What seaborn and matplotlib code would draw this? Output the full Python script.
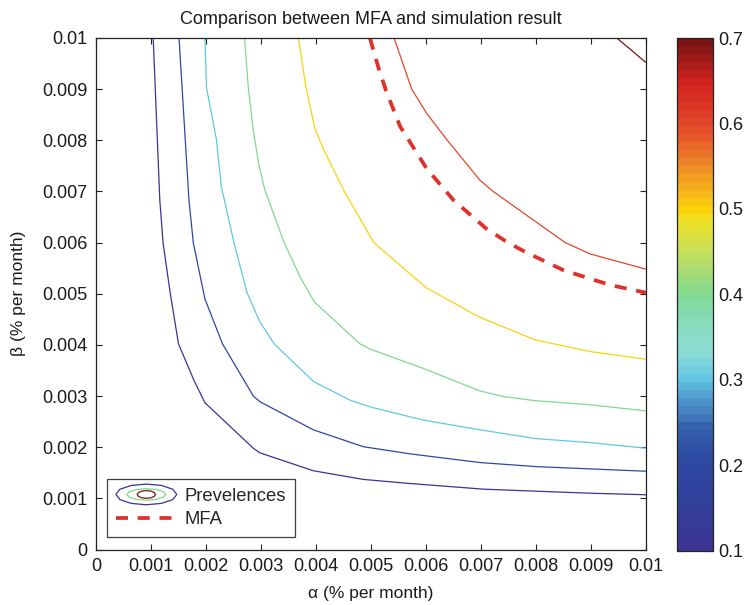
import numpy as np
import pandas as pd
import matplotlib
matplotlib.use("Agg")
import matplotlib.pyplot as plt
import seaborn as sns
from matplotlib.colors import LinearSegmentedColormap, Normalize
from matplotlib.cm import ScalarMappable
from matplotlib.legend_handler import HandlerBase
from matplotlib.lines import Line2D
from matplotlib.patches import Polygon

# ---- contour paths of prevalence (alpha, beta) per level ----
levels = [0.1, 0.2, 0.3, 0.4, 0.5, 0.6, 0.7]

alpha_p10 = [0.00104, 0.00116, 0.00122, 0.00135, 0.00150, 0.00178, 0.00198, 0.00286,
             0.00298, 0.00395, 0.00486, 0.00571, 0.00704, 0.00800, 0.00900, 0.01000]
beta_p10 = [0.01000, 0.00683, 0.00599, 0.00501, 0.00402, 0.00331, 0.00287, 0.00198,
            0.00189, 0.00154, 0.00137, 0.00129, 0.00118, 0.00114, 0.00110, 0.00107]

alpha_p20 = [0.00151, 0.00169, 0.00177, 0.00198, 0.00230, 0.00286, 0.00298, 0.00395,
             0.00486, 0.00571, 0.00698, 0.00801, 0.01000]
beta_p20 = [0.01000, 0.00683, 0.00599, 0.00490, 0.00402, 0.00300, 0.00289, 0.00234,
            0.00201, 0.00187, 0.00170, 0.00162, 0.00153]

alpha_p30 = [0.00198, 0.00201, 0.00219, 0.00228, 0.00251, 0.00275, 0.00298, 0.00324,
             0.00396, 0.00462, 0.00501, 0.00595, 0.00698, 0.00798, 0.00898, 0.01000]
beta_p30 = [0.01000, 0.00902, 0.00801, 0.00709, 0.00599, 0.00501, 0.00445, 0.00402,
            0.00328, 0.00292, 0.00278, 0.00253, 0.00234, 0.00217, 0.00209, 0.00198]

alpha_p40 = [0.00270, 0.00277, 0.00286, 0.00296, 0.00307, 0.00342, 0.00371, 0.00389,
             0.00397, 0.00480, 0.00498, 0.00595, 0.00698, 0.00741, 0.00798, 0.00898, 0.01000]
beta_p40 = [0.01000, 0.00902, 0.00820, 0.00752, 0.00703, 0.00600, 0.00533, 0.00499,
            0.00484, 0.00402, 0.00392, 0.00354, 0.00310, 0.00299, 0.00291, 0.00283, 0.00271]

alpha_p50 = [0.00368, 0.00382, 0.00398, 0.00413, 0.00450, 0.00505, 0.00600, 0.00698,
             0.00798, 0.00898, 0.01000]
beta_p50 = [0.01000, 0.00902, 0.00823, 0.00784, 0.00703, 0.00600, 0.00512, 0.00454,
            0.00410, 0.00387, 0.00372]

alpha_p60 = [0.00542, 0.00574, 0.00601, 0.00638, 0.00698, 0.00722, 0.00819, 0.00853,
             0.00898, 0.01000]
beta_p60 = [0.01000, 0.00900, 0.00853, 0.00801, 0.00722, 0.00700, 0.00626, 0.00600,
            0.00578, 0.00548]

alpha_p70 = [0.00947, 0.01000]
beta_p70 = [0.01000, 0.00952]

# ---- mean-field approximation curve ----
alpha_mfa = [0.00498, 0.00513, 0.00527, 0.00553, 0.00601, 0.00650, 0.00710, 0.00746,
             0.00780, 0.00850, 0.00935, 0.01000]
beta_mfa = [0.01000, 0.00944, 0.00898, 0.00827, 0.00745, 0.00683, 0.00627, 0.00602,
            0.00582, 0.00546, 0.00517, 0.00502]

tick_vals = [0, 0.001, 0.002, 0.003, 0.004, 0.005, 0.006, 0.007, 0.008, 0.009, 0.01]
cbar_ticks = [0.1, 0.2, 0.3, 0.4, 0.5, 0.6, 0.7]

paths = [(alpha_p10, beta_p10), (alpha_p20, beta_p20), (alpha_p30, beta_p30),
         (alpha_p40, beta_p40), (alpha_p50, beta_p50), (alpha_p60, beta_p60),
         (alpha_p70, beta_p70)]

frames = []
for lev, (a, b) in zip(levels, paths):
    frames.append(pd.DataFrame({"alpha": a, "beta": b, "level": lev,
                                "order": np.arange(len(a))}))
contours = pd.concat(frames, ignore_index=True)
mfa = pd.DataFrame({"alpha": alpha_mfa, "beta": beta_mfa})

# ---- jet-like colour map (muted, as printed) ----
vmin, vmax = 0.1, 0.7
anchors = [
    (0.10, "#3b3493"), (0.15, "#32409c"), (0.20, "#2d48a2"), (0.24, "#3660ad"),
    (0.27, "#4a90c8"), (0.30, "#62c6e4"), (0.33, "#8edcd6"), (0.37, "#86dcb8"),
    (0.40, "#80d890"), (0.45, "#c6e05e"), (0.49, "#f2e020"), (0.50, "#fbd20a"),
    (0.53, "#f6a820"), (0.56, "#ee8028"), (0.60, "#e2482a"), (0.65, "#d42420"),
    (0.70, "#7a1414"),
]
cmap_full = LinearSegmentedColormap.from_list(
    "prev", [((v - vmin) / (vmax - vmin), c) for v, c in anchors])
cmap = LinearSegmentedColormap.from_list("prev64", cmap_full(np.linspace(0, 1, 64)), N=64)
norm = Normalize(vmin, vmax)

sns.set_theme(style="white")
plt.rcParams["font.family"] = ["Liberation Sans", "DejaVu Sans"]
plt.rcParams["mathtext.fontset"] = "dejavusans"

FS = 13

fig = plt.figure(figsize=(7.48, 6.05), dpi=100)
ax = fig.add_axes([96 / 748, 55.5 / 605, 550 / 748, 511.5 / 605])
cax = fig.add_axes([677 / 748, 54.5 / 605, 36 / 748, 512.5 / 605])

palette = {lev: cmap_full(norm(lev)) for lev in levels}
sns.lineplot(data=contours, x="alpha", y="beta", hue="level", palette=palette,
             units="level", estimator=None, sort=False, lw=0.9, legend=False, ax=ax)
sns.lineplot(data=mfa, x="alpha", y="beta", sort=False, estimator=None, color="#e0302a",
             lw=2.7, dashes=False, legend=False, ax=ax)
ax.lines[-1].set_dashes((3.2, 2.6))

ax.set_xlim(0, 0.01)
ax.set_ylim(0, 0.01)
ax.set_xticks(tick_vals)
ax.set_yticks(tick_vals)
ax.set_xticklabels([f"{v:g}" for v in tick_vals])
ax.set_yticklabels([f"{v:g}" for v in tick_vals])
ax.tick_params(direction="in", length=4, width=0.8, colors="#222222", labelcolor="#1a1a1a",
               labelsize=FS, top=True, right=True, bottom=True, left=True, pad=6)
for s in ax.spines.values():
    s.set_visible(True)
    s.set_color("#222222")
    s.set_linewidth(0.9)
ax.set_xlabel("α (% per month)", fontsize=12.5, labelpad=8, color="#1a1a1a")
ax.set_ylabel("β (% per month)", fontsize=12.5, labelpad=12, color="#1a1a1a")
ax.set_title("Comparison between MFA and simulation result", fontsize=13, pad=10,
             color="#1a1a1a")


class ContourKey:
    pass


class ContourKeyHandler(HandlerBase):
    def create_artists(self, legend, orig_handle, xdescent, ydescent, width, height,
                       fontsize, trans):
        cx = width / 2 - xdescent
        cy = height / 2 - ydescent
        rings = [(0.50, 0.56, cmap_full(norm(0.1))),
                 (0.32, 0.31, cmap_full(norm(0.4))),
                 (0.15, 0.21, cmap_full(norm(0.7)))]
        t = np.linspace(0, 2 * np.pi, 13)
        arts = []
        for fw, fh, col in rings:
            xy = np.column_stack([cx + fw * width * np.cos(t),
                                  cy + fh * fontsize * np.sin(t)])
            arts.append(Polygon(xy, closed=True, fill=False, edgecolor=col, lw=0.9,
                                transform=trans))
        return arts


mfa_key = Line2D([], [], color="#e0302a", lw=2.7, dashes=(3.2, 2.6))
leg = ax.legend([ContourKey(), mfa_key], ["Prevelences", "MFA"],
                handler_map={ContourKey: ContourKeyHandler()},
                loc="lower left", bbox_to_anchor=(0.02, 0.024), borderaxespad=0,
                fontsize=13.3, handlelength=3.3, handletextpad=0.4, labelspacing=0.35,
                frameon=True, fancybox=False, borderpad=0.48)
leg.get_frame().set_edgecolor("#111111")
leg.get_frame().set_linewidth(0.9)

cb = fig.colorbar(ScalarMappable(norm=norm, cmap=cmap), cax=cax, ticks=cbar_ticks)
cb.outline.set_edgecolor("#222222")
cb.outline.set_linewidth(0.9)
cax.tick_params(direction="in", length=4, width=0.8, left=True, right=True,
                labelleft=False, labelright=True, labelsize=FS, pad=4,
                colors="#222222", labelcolor="#1a1a1a")
cax.set_yticklabels([f"{v:g}" for v in cbar_ticks])

fig.savefig("out.png", dpi=100)
